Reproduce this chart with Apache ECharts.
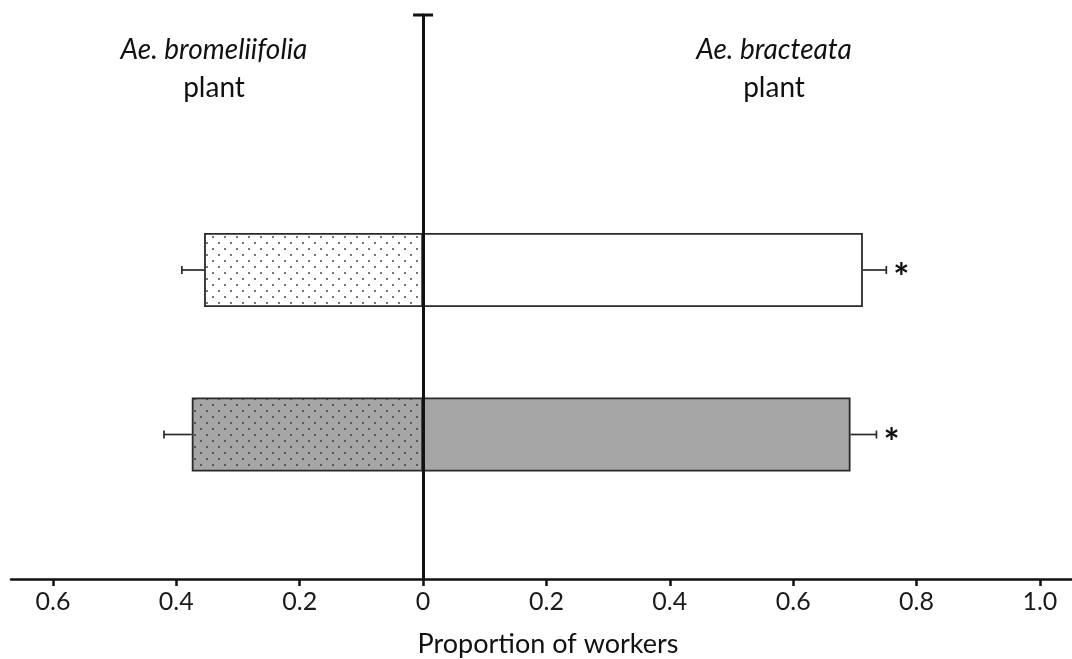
<!DOCTYPE html>
<html>
<head>
<meta charset="utf-8">
<script src="https://cdn.jsdelivr.net/npm/echarts@6/dist/echarts.min.js"></script>
<style>
  html, body { margin: 0; padding: 0; background: #fff; }
  #chart { width: 1072px; height: 659px; }
</style>
</head>
<body>
<div id="chart"></div>
<script>
// rows top to bottom
const categories = ['white', 'grey'];
// proportion on Ae. bromeliifolia plant (drawn to the left, so negative)
const leftValues = [-0.355, -0.375];
const leftErrors = [0.036, 0.045];
// proportion on Ae. bracteata plant
const rightValues = [0.713, 0.693];
const rightErrors = [0.038, 0.042];
const sigMarks = ['*', '*'];
const tickValues = [-0.6, -0.4, -0.2, 0, 0.2, 0.4, 0.6, 0.8, 1.0];

const FONT = 'Lato, "Open Sans", sans-serif';
const fillColors = ['#ffffff', '#a6a6a6'];

// dotted fill for the left bars
function dotPattern(bg) {
  const c = document.createElement('canvas');
  c.width = 12; c.height = 12;
  const ctx = c.getContext('2d');
  ctx.fillStyle = bg;
  ctx.fillRect(0, 0, 12, 12);
  ctx.fillStyle = '#333';
  [[3, 3], [9, 9]].forEach(([x, y]) => {
    ctx.beginPath();
    ctx.arc(x, y, 0.9, 0, Math.PI * 2);
    ctx.fill();
  });
  return { image: c, repeat: 'repeat' };
}

const xMin = -0.668, xMax = 1.052;

const errData = [];
categories.forEach((c, i) => {
  errData.push([leftValues[i], leftErrors[i], i, '']);
  errData.push([rightValues[i], rightErrors[i], i, sigMarks[i]]);
});

function renderErr(params, api) {
  const mean = api.value(0);
  const err = api.value(1);
  const cat = api.value(2);
  const mark = errData[params.dataIndex][3];
  const dir = mean < 0 ? -1 : 1;
  const p0 = api.coord([mean, cat]);
  const p1 = api.coord([mean + dir * err, cat]);
  const st = { stroke: '#2a2a2a', lineWidth: 1.7 };
  const kids = [
    { type: 'line', shape: { x1: p0[0], y1: p0[1], x2: p1[0], y2: p1[1] }, style: st },
    { type: 'line', shape: { x1: p1[0], y1: p1[1] - 4, x2: p1[0], y2: p1[1] + 4 }, style: st }
  ];
  if (mark) {
    kids.push({
      type: 'text',
      x: p1[0] + dir * 15,
      y: p1[1] + 9,
      style: {
        text: mark, align: 'center', verticalAlign: 'middle',
        font: 'bold 38px ' + FONT, fill: '#111'
      }
    });
  }
  return { type: 'group', children: kids };
}

const chart = echarts.init(document.getElementById('chart'));
chart.setOption({
  animation: false,
  backgroundColor: '#fff',
  grid: [
    { left: 11, right: 0, top: 15, bottom: 80, outerBoundsMode: 'none' },
    { left: 11, right: 0, top: 187.75, bottom: 142.25, outerBoundsMode: 'none' }
  ],
  xAxis: [
    {
      type: 'value', gridIndex: 0, min: xMin, max: xMax,
      axisLine: { onZero: false, lineStyle: { color: '#111', width: 2.5 } },
      axisTick: { customValues: tickValues, length: 7, lineStyle: { color: '#111', width: 2.5 } },
      axisLabel: {
        customValues: tickValues, margin: 10, color: '#1a1a1a',
        fontFamily: FONT, fontSize: 25,
        formatter: v => v === 0 ? '0' : Math.abs(v).toFixed(1)
      },
      splitLine: { show: false }
    },
    { type: 'value', gridIndex: 1, min: xMin, max: xMax, show: false }
  ],
  yAxis: [
    {
      type: 'value', gridIndex: 0, min: 0, max: 1, z: 5,
      axisLine: {
        show: true, onZero: true,
        symbol: ['none', 'rect'], symbolSize: [20, 3],
        lineStyle: { color: '#111', width: 3 }
      },
      axisTick: { show: false },
      axisLabel: { show: false },
      splitLine: { show: false }
    },
    { type: 'category', gridIndex: 1, data: categories, inverse: true, show: false }
  ],
  graphic: [
    { type: 'text', x: 214, y: 50, style: { text: 'Ae. bromeliifolia', align: 'center', verticalAlign: 'middle', font: 'italic 28px ' + FONT, fill: '#111' } },
    { type: 'text', x: 214, y: 88, style: { text: 'plant', align: 'center', verticalAlign: 'middle', font: '28px ' + FONT, fill: '#111' } },
    { type: 'text', x: 774, y: 50, style: { text: 'Ae. bracteata', align: 'center', verticalAlign: 'middle', font: 'italic 28px ' + FONT, fill: '#111' } },
    { type: 'text', x: 774, y: 88, style: { text: 'plant', align: 'center', verticalAlign: 'middle', font: '28px ' + FONT, fill: '#111' } },
    { type: 'text', x: 548, y: 644, style: { text: 'Proportion of workers', align: 'center', verticalAlign: 'middle', font: '27px ' + FONT, fill: '#111' } }
  ],
  series: [
    {
      name: 'Ae. bromeliifolia', type: 'bar', xAxisIndex: 1, yAxisIndex: 1,
      stack: 'p', barWidth: 74,
      data: leftValues.map((v, i) => ({
        value: v,
        itemStyle: { color: dotPattern(fillColors[i]), borderColor: '#2a2a2a', borderWidth: 1.8 }
      }))
    },
    {
      name: 'Ae. bracteata', type: 'bar', xAxisIndex: 1, yAxisIndex: 1,
      stack: 'p', barWidth: 74,
      data: rightValues.map((v, i) => ({
        value: v,
        itemStyle: { color: fillColors[i], borderColor: '#2a2a2a', borderWidth: 1.8 }
      }))
    },
    {
      type: 'custom', xAxisIndex: 1, yAxisIndex: 1, z: 3,
      renderItem: renderErr,
      encode: { x: 0, y: 2 },
      data: errData
    }
  ]
});
</script>
</body>
</html>
